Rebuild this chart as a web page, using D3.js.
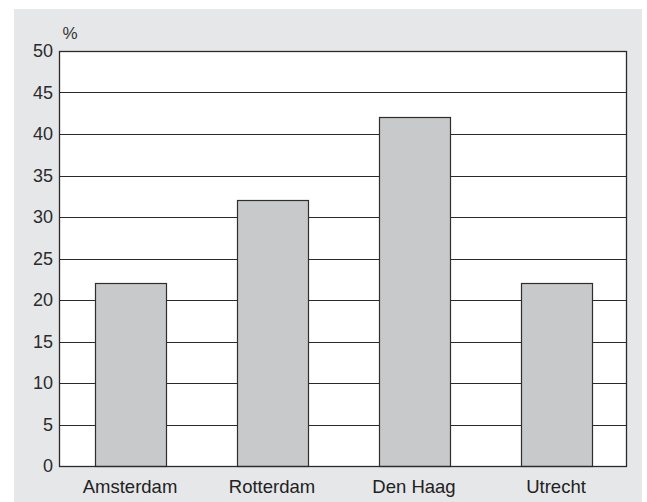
<!DOCTYPE html>
<html>
<head>
<meta charset="utf-8">
<script src="https://cdn.jsdelivr.net/npm/d3@7"></script>
<style>
  html, body { margin: 0; padding: 0; background: #ffffff; }
  svg { display: block; }
  text { font-family: "Liberation Sans", Arial, sans-serif; }
</style>
</head>
<body>
<svg id="chart" width="647" height="502"></svg>
<script>
// Share of respondents per city (%)
const cities = ["Amsterdam", "Rotterdam", "Den Haag", "Utrecht"];
const shares = [22, 32, 42, 22];
const yTicks = [0, 5, 10, 15, 20, 25, 30, 35, 40, 45, 50];
const unitLabel = "%";

const svg = d3.select("#chart");
const W = 647, H = 502;
const plot = { left: 59, top: 51, right: 627, bottom: 466 };

// panel background
svg.append("rect")
  .attr("x", 14).attr("y", 9)
  .attr("width", 628).attr("height", H - 9)
  .attr("fill", "#e6e7e9");

// plot area
svg.append("rect")
  .attr("x", plot.left).attr("y", plot.top)
  .attr("width", plot.right - plot.left).attr("height", plot.bottom - plot.top)
  .attr("fill", "#ffffff");

const x = d3.scaleBand().domain(cities).range([plot.left, plot.right]).paddingInner(0.5).paddingOuter(0.25);
const y = d3.scaleLinear().domain([0, 50]).range([plot.bottom, plot.top]);

// horizontal gridlines
svg.append("g")
  .selectAll("line")
  .data(yTicks)
  .join("line")
  .attr("x1", plot.left).attr("x2", plot.right)
  .attr("y1", d => Math.round(y(d)) + 0.5).attr("y2", d => Math.round(y(d)) + 0.5)
  .attr("stroke", "#2a2a2a")
  .attr("stroke-width", 1);

// bars
svg.append("g")
  .selectAll("rect")
  .data(cities.map((c, i) => ({ c, v: shares[i] })))
  .join("rect")
  .attr("x", d => Math.round(x(d.c)) + 0.5)
  .attr("y", d => Math.round(y(d.v)) + 0.5)
  .attr("width", Math.round(x.bandwidth()))
  .attr("height", d => Math.round(y(0)) - Math.round(y(d.v)))
  .attr("fill", "#c8c9cb")
  .attr("stroke", "#2e2e2e")
  .attr("stroke-width", 1.2);

// plot frame
svg.append("rect")
  .attr("x", plot.left + 0.5).attr("y", plot.top + 0.5)
  .attr("width", plot.right - plot.left - 1).attr("height", plot.bottom - plot.top)
  .attr("fill", "none")
  .attr("stroke", "#2a2a2a")
  .attr("stroke-width", 1.3);

// y axis labels
const yAxis = d3.axisLeft(y).tickValues(yTicks).tickSize(0).tickPadding(6).tickFormat(d3.format("d"));
const gy = svg.append("g").attr("transform", `translate(${plot.left},0)`).call(yAxis);
gy.select(".domain").remove();
gy.selectAll("text")
  .attr("font-size", 18)
  .attr("fill", "#2b2b2b")
  .attr("font-family", "Liberation Sans, Arial, sans-serif");

// x axis labels
const xAxis = d3.axisBottom(x).tickSize(0).tickPadding(14);
const gx = svg.append("g").attr("transform", `translate(0,${plot.bottom})`).call(xAxis);
gx.select(".domain").remove();
gx.selectAll("text")
  .attr("font-size", 18.5)
  .attr("fill", "#222222")
  .attr("font-family", "Liberation Sans, Arial, sans-serif");

// unit label
svg.append("text")
  .attr("x", 62.5).attr("y", 38.5)
  .attr("font-size", 17)
  .attr("fill", "#333333")
  .text(unitLabel);
</script>
</body>
</html>
